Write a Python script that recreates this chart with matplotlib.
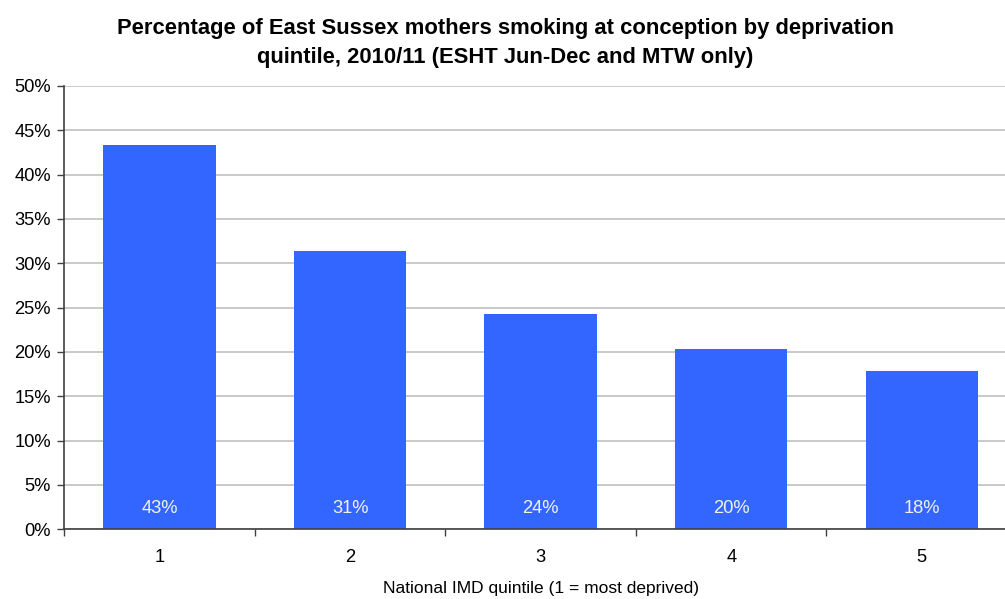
import matplotlib.pyplot as plt
import numpy as np
from matplotlib.ticker import FixedLocator, PercentFormatter

plt.rcParams["font.family"] = ["Liberation Sans", "DejaVu Sans"]

quintiles = ["1", "2", "3", "4", "5"]
smoking_pct = [43.4, 31.4, 24.3, 20.3, 17.8]
bar_labels = ["43%", "31%", "24%", "20%", "18%"]

title = ("Percentage of East Sussex mothers smoking at conception by deprivation\n"
         "quintile, 2010/11 (ESHT Jun-Dec and MTW only)")
xlabel = "National IMD quintile (1 = most deprived)"

bar_color = "#3366FF"
grid_color = "#C0C0C0"
axis_color = "#404040"

fig = plt.figure(figsize=(10.05, 5.99), dpi=100)
ax = fig.add_axes((64.3 / 1005, 69.7 / 599, 952.7 / 1005, 443.3 / 599))

x = np.arange(len(quintiles))
bars = ax.bar(x, smoking_pct, width=0.59, color=bar_color, zorder=2)
for bar, label in zip(bars, bar_labels):
    ax.text(bar.get_x() + bar.get_width() / 2, 2.4, label,
            ha="center", va="center", color="#F0F0F0", fontsize=13.2, zorder=3)

ax.set_xlim(-0.5, len(quintiles) - 0.5)
ax.set_ylim(0, 50)
ax.set_yticks(np.arange(0, 51, 5))
ax.yaxis.set_major_formatter(PercentFormatter(decimals=0))
ax.set_xticks(x)
ax.set_xticklabels(quintiles)
ax.xaxis.set_minor_locator(FixedLocator(np.arange(-0.5, len(quintiles), 1.0)))

ax.tick_params(axis="y", which="major", length=5, width=1, color=axis_color,
               labelsize=13.2, pad=4.5)
ax.tick_params(axis="x", which="major", length=0, labelsize=13.2, pad=14)
ax.tick_params(axis="x", which="minor", length=5, width=1, color=axis_color)

ax.grid(axis="y", color=grid_color, linewidth=1.2, zorder=0)
for side in ("top", "right"):
    ax.spines[side].set_visible(False)
for side in ("left", "bottom"):
    ax.spines[side].set_color(axis_color)
    ax.spines[side].set_linewidth(1.2)
    ax.spines[side].set_zorder(4)

ax.set_xlabel(xlabel, fontsize=12.5, labelpad=11)
fig.text(505 / 1005, 1 - 43 / 599, title, ha="center", va="center",
         fontsize=15.8, fontweight="bold", linespacing=1.45)

fig.savefig("out.png", dpi=100)
